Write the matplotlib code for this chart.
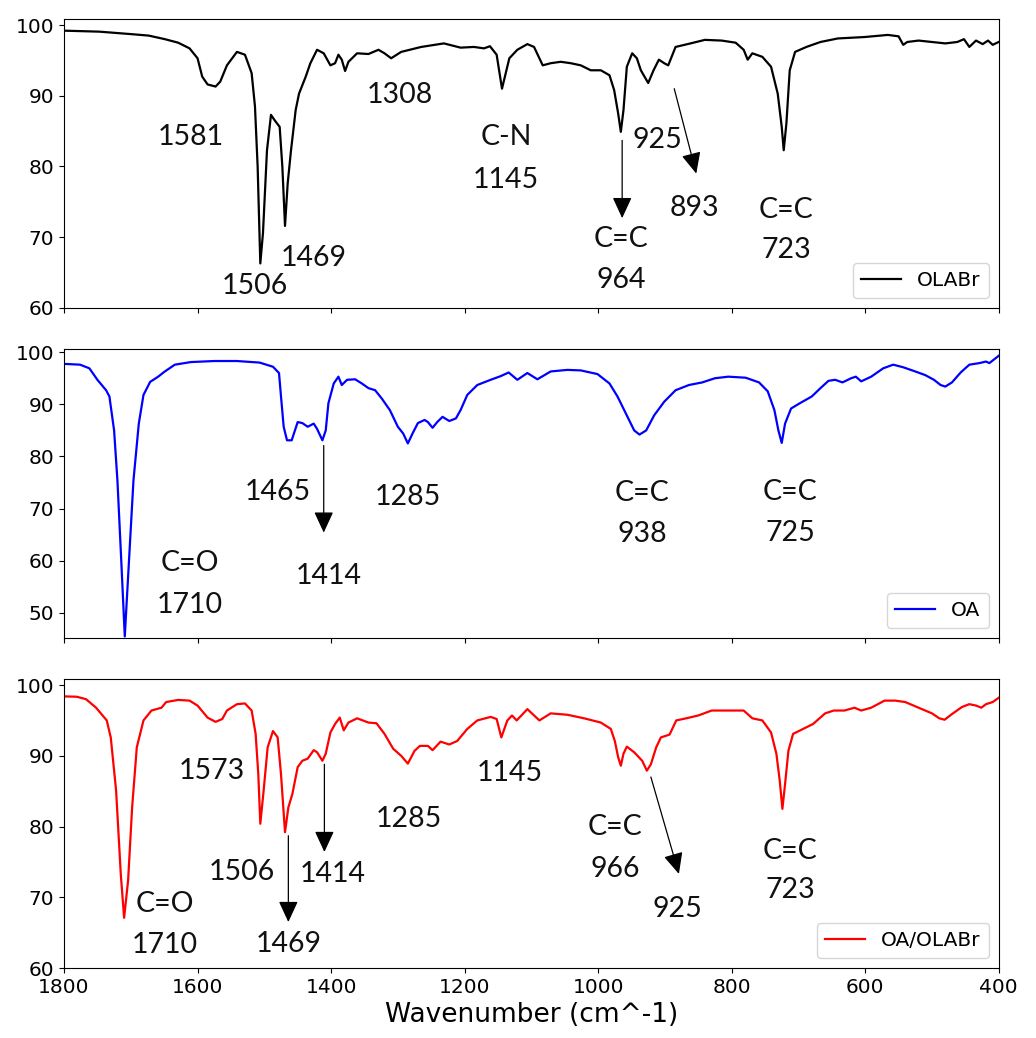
import matplotlib
matplotlib.use("Agg")
import matplotlib.pyplot as plt

# OLABr spectrum (wavenumber, transmittance %)
olabr_wn = [1800, 1747, 1698, 1673, 1649, 1629, 1612, 1600, 1593, 1585,
            1573, 1566, 1556, 1541, 1529, 1519, 1514, 1510, 1506, 1502,
            1496, 1490, 1485, 1477, 1473, 1469, 1465, 1460, 1453, 1448,
            1438, 1431, 1421, 1411, 1401, 1394, 1389, 1384, 1379, 1374,
            1361, 1344, 1329, 1320, 1310, 1295, 1265, 1231, 1206, 1186,
            1171, 1162, 1152, 1144, 1133, 1121, 1106, 1096, 1083, 1071,
            1056, 1041, 1026, 1011, 996, 983, 976, 970, 966, 962,
            957, 949, 942, 936, 925, 917, 909, 901, 895, 884,
            866, 840, 815, 794, 782, 776, 769, 754, 741, 731,
            725, 722, 718, 713, 705, 688, 667, 641, 601, 566,
            550, 543, 537, 520, 500, 480, 462, 452, 444, 434,
            424, 416, 409, 400]
olabr_t = [99.2, 99.06, 98.7, 98.5, 98.0, 97.5, 96.7, 95.3, 92.7, 91.6,
           91.3, 92.0, 94.3, 96.2, 95.8, 93.2, 88.5, 80.0, 66.3, 70.6,
           82.3, 87.3, 86.6, 85.6, 80.0, 71.6, 77.6, 82.3, 88.0, 90.3,
           92.7, 94.6, 96.5, 96.0, 94.3, 94.6, 95.8, 95.1, 93.5, 94.8,
           96.0, 95.9, 96.5, 96.0, 95.3, 96.2, 96.9, 97.4, 96.8, 96.9,
           96.7, 97.0, 95.8, 91.0, 95.3, 96.5, 97.3, 96.9, 94.3, 94.6,
           94.8, 94.6, 94.3, 93.6, 93.6, 92.9, 90.8, 87.5, 84.9, 88.0,
           94.1, 96.0, 95.3, 93.6, 91.8, 93.6, 95.1, 94.6, 94.3, 96.9,
           97.3, 97.9, 97.8, 97.5, 96.5, 95.1, 96.0, 95.5, 94.1, 90.3,
           85.6, 82.3, 86.1, 93.6, 96.2, 96.9, 97.6, 98.1, 98.3, 98.6,
           98.4, 97.2, 97.6, 97.8, 97.6, 97.4, 97.6, 98.0, 96.9, 97.8,
           97.3, 97.8, 97.2, 97.6]

# OA spectrum
oa_wn = [1800, 1776, 1762, 1750, 1737, 1732, 1725, 1720, 1714, 1709,
         1703, 1696, 1688, 1681, 1671, 1659, 1649, 1634, 1610, 1575,
         1541, 1507, 1487, 1478, 1475, 1471, 1466, 1459, 1450, 1443,
         1435, 1426, 1421, 1413, 1408, 1404, 1396, 1389, 1384, 1376,
         1364, 1354, 1344, 1334, 1324, 1312, 1300, 1292, 1285, 1278,
         1270, 1260, 1255, 1248, 1241, 1233, 1223, 1213, 1206, 1196,
         1181, 1161, 1146, 1134, 1121, 1106, 1091, 1071, 1046, 1026,
         1001, 983, 971, 956, 946, 938, 928, 916, 901, 884,
         864, 844, 825, 805, 779, 759, 746, 736, 730, 725,
         720, 711, 698, 680, 667, 655, 645, 634, 621, 614,
         606, 591, 573, 558, 543, 525, 510, 497, 487, 480,
         470, 457, 444, 429, 419, 414, 409, 400]
oa_t = [97.75, 97.6, 96.9, 94.7, 92.7, 91.5, 85.0, 75.4, 59.3, 45.5,
        59.3, 75.4, 86.3, 91.8, 94.3, 95.3, 96.3, 97.6, 98.1, 98.3,
        98.3, 98.0, 97.2, 96.0, 91.5, 85.7, 83.1, 83.1, 86.6, 86.4,
        85.7, 86.3, 85.3, 83.1, 85.0, 90.2, 94.0, 95.3, 93.7, 94.7,
        94.8, 94.0, 93.1, 92.7, 91.1, 88.9, 85.7, 84.4, 82.5, 84.4,
        86.4, 87.0, 86.6, 85.5, 86.6, 87.6, 86.8, 87.3, 88.9, 91.8,
        93.7, 94.7, 95.4, 96.1, 94.7, 96.0, 94.8, 96.3, 96.6, 96.5,
        95.8, 94.0, 91.5, 87.6, 85.0, 84.2, 85.0, 87.9, 90.5, 92.7,
        93.7, 94.2, 95.0, 95.3, 95.1, 94.2, 92.5, 88.9, 85.0, 82.6,
        86.3, 89.2, 90.2, 91.5, 93.1, 94.5, 94.7, 94.2, 95.0, 95.3,
        94.4, 95.3, 96.9, 97.6, 97.1, 96.3, 95.6, 94.7, 93.7, 93.4,
        94.2, 96.1, 97.6, 97.9, 98.2, 97.9, 98.4, 99.3]

# OA/OLABr spectrum
mix_wn = [1800, 1781, 1767, 1752, 1736, 1730, 1722, 1715, 1710, 1704,
          1698, 1691, 1681, 1669, 1654, 1647, 1629, 1612, 1600, 1585,
          1573, 1563, 1556, 1541, 1529, 1519, 1513, 1509, 1506, 1501,
          1495, 1487, 1480, 1475, 1469, 1464, 1458, 1450, 1443, 1435,
          1426, 1421, 1413, 1408, 1401, 1394, 1387, 1381, 1374, 1361,
          1344, 1332, 1320, 1307, 1295, 1285, 1275, 1267, 1255, 1248,
          1236, 1223, 1211, 1196, 1181, 1161, 1152, 1145, 1136, 1129,
          1122, 1106, 1088, 1071, 1046, 1021, 996, 981, 975, 970,
          966, 962, 957, 946, 934, 927, 921, 913, 906, 893,
          883, 868, 850, 830, 805, 782, 769, 754, 741, 733,
          728, 724, 720, 715, 708, 693, 678, 660, 647, 631,
          616, 606, 591, 571, 555, 540, 515, 500, 489, 481,
          470, 455, 444, 434, 426, 419, 409, 400]
mix_t = [98.4, 98.35, 98.0, 96.8, 95.0, 92.6, 85.1, 73.3, 67.1, 72.4,
         82.7, 91.2, 95.0, 96.4, 96.8, 97.6, 97.9, 97.8, 97.1, 95.4,
         94.8, 95.2, 96.4, 97.3, 97.4, 96.4, 93.1, 87.4, 80.4, 85.1,
         91.2, 93.5, 92.6, 87.4, 79.2, 82.7, 84.6, 88.4, 89.3, 89.6,
         90.8, 90.5, 89.3, 90.3, 93.3, 94.5, 95.4, 93.6, 94.7, 95.3,
         94.7, 94.6, 93.1, 91.0, 90.0, 88.9, 90.7, 91.4, 91.4, 90.8,
         92.0, 91.6, 92.1, 93.8, 95.0, 95.5, 95.2, 92.6, 95.0, 95.7,
         95.0, 96.6, 95.0, 96.0, 95.8, 95.3, 94.7, 93.8, 92.1, 89.8,
         88.6, 90.3, 91.3, 90.5, 89.3, 87.9, 88.8, 91.2, 92.6, 93.0,
         95.0, 95.3, 95.7, 96.4, 96.4, 96.4, 95.3, 95.0, 93.3, 90.3,
         86.5, 82.5, 86.0, 90.7, 93.1, 93.8, 94.5, 96.0, 96.4, 96.4,
         96.8, 96.4, 96.8, 97.8, 97.8, 97.6, 96.6, 96.0, 95.3, 95.1,
         95.9, 96.9, 97.3, 97.1, 96.8, 97.3, 97.6, 98.2]

names = ["OLABr", "OA", "OA/OLABr"]
colors = ["k", "b", "r"]
xticks = [1800, 1600, 1400, 1200, 1000, 800, 600, 400]

fig, axes = plt.subplots(3, 1, figsize=(10.36, 10.38), dpi=100, sharex=True)
fig.subplots_adjust(left=0.0618, right=0.964, top=0.9817, bottom=0.0674, hspace=0.142)

series = [(olabr_wn, olabr_t), (oa_wn, oa_t), (mix_wn, mix_t)]
ylims = [(60, 100.85), (45.2, 100.6), (60, 100.85)]
yticks = [range(60, 101, 10), range(50, 101, 10), range(60, 101, 10)]

for ax, (wn, t), name, c, yl, yt in zip(axes, series, names, colors, ylims, yticks):
    ax.plot(wn, t, color=c, lw=1.6, label=name)
    ax.set_ylim(*yl)
    ax.set_yticks(list(yt))
    ax.legend(loc="lower right", fontsize=14.5, handlelength=2.0)
    ax.tick_params(labelsize=14.5)

axes[2].set_xlim(1800, 400)
axes[2].set_xticks(xticks)
axes[2].set_xlabel("Wavenumber (cm^-1)", fontsize=19)

# peak labels: (text, wavenumber, y) per panel
labels = [
    [("1581", 1610, 84.2), ("1506", 1514, 63.1), ("1469", 1426, 67.0),
     ("1308", 1297, 90.1), ("C-N", 1138, 84.2), ("1145", 1138, 78.1),
     ("925", 911, 83.7), ("C=C", 966, 69.8), ("964", 966, 64.0),
     ("893", 856, 74.1), ("C=C", 718, 73.9), ("723", 718, 68.2)],
    [("C=O", 1612, 59.6), ("1710", 1612, 51.6), ("1465", 1480, 73.1),
     ("1414", 1404, 57.1), ("1285", 1285, 72.2), ("C=C", 934, 73.0),
     ("938", 934, 65.1), ("C=C", 712, 73.1), ("725", 712, 65.4)],
    [("1573", 1578, 87.9), ("C=O", 1649, 69.1), ("1710", 1649, 63.2),
     ("1506", 1534, 73.6), ("1469", 1463, 63.4), ("1414", 1398, 73.3),
     ("1285", 1283, 81.1), ("1145", 1133, 87.6), ("C=C", 975, 79.9),
     ("966", 975, 74.0), ("925", 882, 68.4), ("C=C", 712, 76.6),
     ("723", 712, 71.0)],
]
# arrows: (start wn, start y, tip wn, tip y) per panel
arrows = [
    [(964, 83.7, 964, 72.7), (886, 91.0, 853, 79.0)],
    [(1411, 82.1, 1411, 65.4)],
    [(1464, 78.7, 1464, 66.5), (1410, 88.8, 1410, 76.4), (921, 87.0, 879, 73.3)],
]

for ax, labs, arrs in zip(axes, labels, arrows):
    for txt, x, y in labs:
        ax.text(x, y, txt, ha="center", va="center", fontsize=20.5,
                family=["Lato", "DejaVu Sans"], color="#111111")
    for x0, y0, x1, y1 in arrs:
        ax.annotate("", xy=(x1, y1), xytext=(x0, y0),
                    arrowprops=dict(arrowstyle="-|>,head_length=0.65,head_width=0.3",
                                    mutation_scale=20, color="k", lw=0.9,
                                    shrinkA=0, shrinkB=0))

fig.savefig("out.png", dpi=100)
